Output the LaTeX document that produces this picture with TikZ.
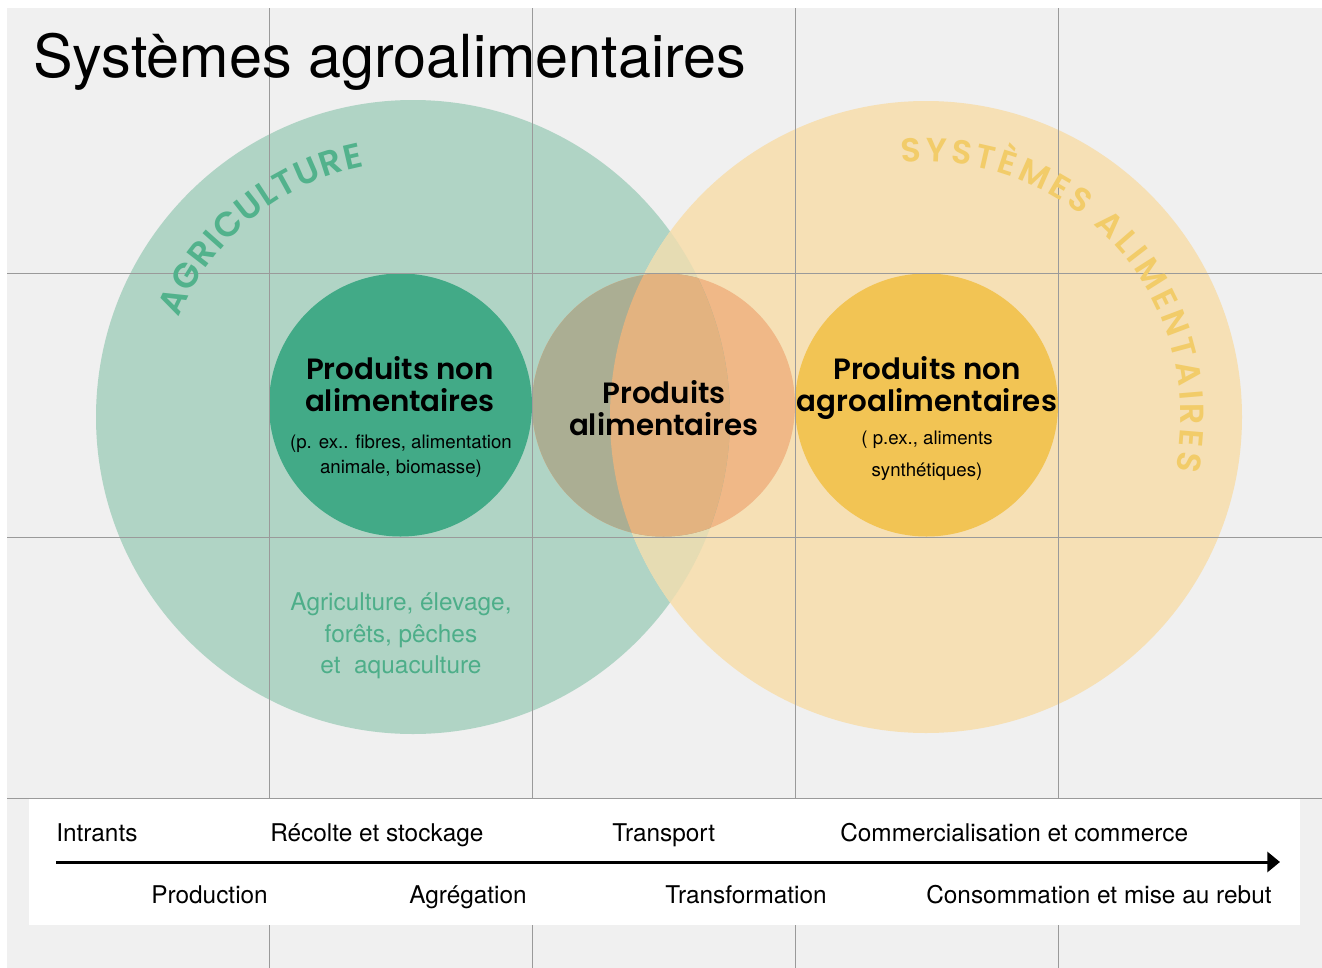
\documentclass[tikz,border=0pt]{standalone}
\usepackage{fontspec}
\setmainfont{TeX Gyre Heros}
\newfontfamily\popsb{Poppins SemiBold}
\newfontfamily\popmd{Poppins Medium}
\usetikzlibrary{arrows.meta,decorations.text}
\definecolor{panel}{HTML}{F0F0F0}
\definecolor{gridc}{HTML}{9A9A9A}
\definecolor{bigG}{HTML}{B0D4C5}
\definecolor{bigY}{HTML}{F6E0B5}
\definecolor{bigO}{HTML}{E6DCB3}
\definecolor{smG}{HTML}{42AA87}
\definecolor{smY}{HTML}{F2C454}
\definecolor{midG}{HTML}{ABAE93}
\definecolor{midO}{HTML}{E3B380}
\definecolor{midY}{HTML}{F0B887}
\definecolor{agtxt}{HTML}{52B28C}
\definecolor{sytxt}{HTML}{F2CC69}
\definecolor{gtxt}{HTML}{4DAE89}
\tikzset{
  gridline/.style={draw=gridc, line width=0.6pt},
  boldlab/.style={anchor=base, inner sep=0pt, font=\popsb\fontsize{22}{24}\selectfont},
  smalllab/.style={anchor=base, inner sep=0pt, font=\fontsize{14}{16}\selectfont},
  greenlab/.style={anchor=base, inner sep=0pt, text=gtxt, font=\fontsize{18.3}{20}\selectfont},
  steplab/.style={anchor=base west, inner sep=0pt, font=\fontsize{18.3}{20}\selectfont},
}
\begin{document}
\begin{tikzpicture}[x=0.75pt,y=0.75pt]
\useasboundingbox (0,0) rectangle (1322,-968);
\fill[white] (0,0) rectangle (1322,-968);
\fill[panel] (7,-8) rectangle (1322,-968);
% centres
\coordinate (cA) at (413,-417);
\coordinate (cS) at (926,-417);
\coordinate (cNA) at (400.5,-405);
\coordinate (cPA) at (663.5,-405);
\coordinate (cNG) at (926.5,-405);
% big circles
\fill[bigG] (cA) circle[radius=317];
\fill[bigY] (cS) circle[radius=316];
\begin{scope}
  \clip (cA) circle[radius=317];
  \fill[bigO] (cS) circle[radius=316];
\end{scope}
% small circles
\fill[smG] (cNA) circle[radius=131.5];
\fill[smY] (cNG) circle[radius=131.5];
\fill[midY] (cPA) circle[radius=131.5];
\begin{scope}
  \clip (cA) circle[radius=317];
  \fill[midG] (cPA) circle[radius=131.5];
  \clip (cS) circle[radius=316];
  \fill[midO] (cPA) circle[radius=131.5];
\end{scope}
% grid
\foreach \x in {269,532,795,1058} \draw[gridline] (\x,-8) -- (\x,-968);
\foreach \y in {273,537,798} \draw[gridline] (7,-\y) -- (1322,-\y);
% curved texts
\path[decorate, decoration={text along path, text={|\popsb\fontsize{26}{26}\selectfont\color{agtxt}|AGRICULTURE}, text align={fit to path}}]
  ([shift={(157:255)}]cA) arc[start angle=157, end angle=101, radius=255];
\path[decorate, decoration={text along path, text={|\popsb\fontsize{25}{25}\selectfont\color{sytxt}|SYSTÈMES ALIMENTAIRES}, text align={fit to path}}]
  ([shift={(95.5:255)}]cS) arc[start angle=95.5, end angle=-12, radius=255];
% title
\node[anchor=base west, inner sep=0pt, font=\fontsize{44.5}{44.5}\selectfont] (title) at (33,-77) {Systèmes agroalimentaires};
% labels in circles
\node[boldlab] (tNA1) at (400,-379) {Produits non};
\node[boldlab] (tNA2) at (400,-411) {alimentaires};
\node[smalllab] (sNA1) at (401,-448) {(p. ex.. fibres, alimentation};
\node[smalllab] (sNA2) at (401,-473) {animale, biomasse)};
\node[boldlab] (tPA1) at (664,-403) {Produits};
\node[boldlab] (tPA2) at (664,-435) {alimentaires};
\node[boldlab] (tNG1) at (927,-379) {Produits non};
\node[boldlab] (tNG2) at (927,-411) {agroalimentaires};
\node[smalllab] (sNG1) at (927,-444) {( p.ex., aliments};
\node[smalllab] (sNG2) at (927,-476) {synthétiques)};
\node[greenlab] (gA1) at (401,-610) {Agriculture, élevage,};
\node[greenlab] (gA2) at (401,-642) {forêts, pêches};
\node[greenlab] (gA3) at (401,-673) {et\ \ aquaculture};
% bottom bar
\fill[white] (29,-799) rectangle (1300,-925);
\coordinate (arrS) at (56,-862);
\coordinate (arrE) at (1280,-862);
\draw[line width=2.25pt, -{Triangle[length=9.5pt,width=15pt]}] (arrS) -- (arrE);
\node[steplab] (l1) at (56,-841) {Intrants};
\node[steplab] (l2) at (270,-841) {Récolte et stockage};
\node[steplab] (l3) at (612,-841) {Transport};
\node[steplab] (l4) at (840,-841) {Commercialisation et commerce};
\node[steplab] (l5) at (151,-903) {Production};
\node[steplab] (l6) at (409,-903) {Agrégation};
\node[steplab] (l7) at (665,-903) {Transformation};
\node[steplab] (l8) at (926,-903) {Consommation et mise au rebut};
\end{tikzpicture}
\end{document}
